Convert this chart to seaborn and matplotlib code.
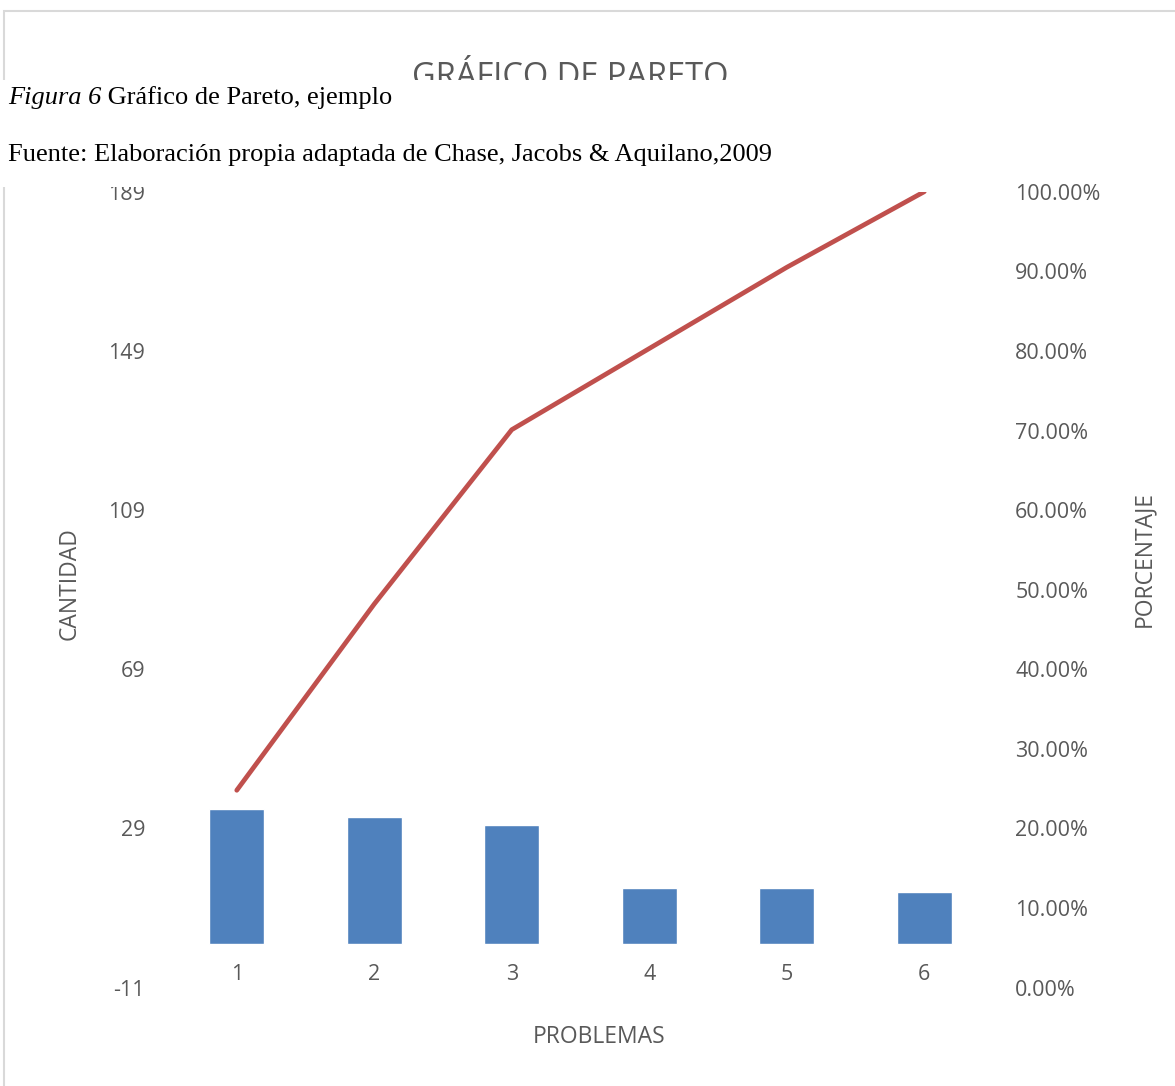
import numpy as np
import pandas as pd
import matplotlib
matplotlib.use("Agg")
import matplotlib.pyplot as plt
from matplotlib.patches import Rectangle
from matplotlib.ticker import FuncFormatter
import seaborn as sns

# Data
problemas = ["1", "2", "3", "4", "5", "6"]
cantidad = [34, 32, 30, 14, 14, 13]
porcentaje = [0.248, 0.482, 0.701, 0.803, 0.905, 1.000]
left_ticks = [-11, 29, 69, 109, 149, 189]
right_ticks = [0.0, 0.1, 0.2, 0.3, 0.4, 0.5, 0.6, 0.7, 0.8, 0.9, 1.0]

sns.set_theme(style="white")
plt.rcParams['font.family'] = ['Open Sans', 'DejaVu Sans']
plt.rcParams['axes.unicode_minus'] = False

grey = '#595959'
font_size = 15.5
label_size = 16.5

df = pd.DataFrame({'Problema': problemas, 'Cantidad': cantidad, 'Pct': porcentaje})
df['pos'] = np.arange(len(df))

W, H = 1175, 1086
fig = plt.figure(figsize=(W / 100, H / 100), dpi=100)

# axes placed in pixel terms
left, right, top, bottom = 168, 993, 191.7, 987.7
ax = fig.add_axes([left / W, 1 - bottom / H, (right - left) / W, (bottom - top) / H])

sns.barplot(data=df, x='Problema', y='Cantidad', color='#4F81BD', width=0.4,
            saturation=1, ax=ax)
ax.set_xlim(-0.5, 5.5)
ax.set_ylim(-11, 189)
ax.set_yticks(left_ticks)
for s in ax.spines.values():
    s.set_visible(False)
ax.spines['bottom'].set_position(('data', 0))
ax.tick_params(axis='x', length=0, pad=14.8, labelsize=font_size, labelcolor=grey)
ax.tick_params(axis='y', length=0, pad=16.5, labelsize=font_size, labelcolor=grey)
ax.set_xlabel('PROBLEMAS', fontsize=label_size, color=grey)
ax.xaxis.set_label_coords(0.522, -0.047)
ax.set_ylabel('CANTIDAD', fontsize=label_size, color=grey)
ax.yaxis.set_label_coords(-0.105, 0.508)

ax2 = ax.twinx()
sns.lineplot(data=df, x='pos', y='Pct', color='#C0504D', linewidth=3.4,
             solid_capstyle='round', ax=ax2)
ax2.set_xlim(-0.5, 5.5)
ax2.set_ylim(0, 1)
ax2.set_yticks(right_ticks)
ax2.yaxis.set_major_formatter(FuncFormatter(lambda v, p: f'{v * 100:.2f}%'))
for s in ax2.spines.values():
    s.set_visible(False)
ax2.tick_params(axis='y', length=0, pad=16, labelsize=font_size, labelcolor=grey)
ax2.set_ylabel('PORCENTAJE', fontsize=label_size, color=grey)
ax2.yaxis.set_label_coords(1.1685, 0.5386)

# chart frame
fig.patches.append(Rectangle((4 / W, -0.05), 1.1, 1 - 11 / H + 0.05, transform=fig.transFigure,
                             fill=False, edgecolor='#D9D9D9', linewidth=1.5, zorder=0))

# chart title (partially hidden by the caption box)
fig.text(570 / W, 1 - 86 / H, 'GRÁFICO DE PARETO', ha='center', va='baseline',
         fontsize=23.5, color=grey, zorder=1)

# caption box on top
fig.patches.append(Rectangle((0, 1 - 187 / H), 1000 / W, (187 - 80) / H, transform=fig.transFigure,
                             facecolor='white', edgecolor='none', zorder=10))

serif = ['Liberation Serif', 'DejaVu Serif']
cap_size = 19
t1 = fig.text(8 / W, 1 - 104 / H, 'Figura 6', family=serif, style='italic',
              fontsize=cap_size, color='black', va='baseline', zorder=11)
fig.canvas.draw()
bb = t1.get_window_extent(renderer=fig.canvas.get_renderer())
fig.text(bb.x1 / W, 1 - 104 / H, ' Gráfico de Pareto, ejemplo', family=serif,
         fontsize=cap_size, color='black', va='baseline', zorder=11)
fig.text(8 / W, 1 - 161 / H, 'Fuente: Elaboración propia adaptada de Chase, Jacobs & Aquilano,2009',
         family=serif, fontsize=cap_size, color='black', va='baseline', zorder=11)

fig.savefig('out.png', dpi=100)
